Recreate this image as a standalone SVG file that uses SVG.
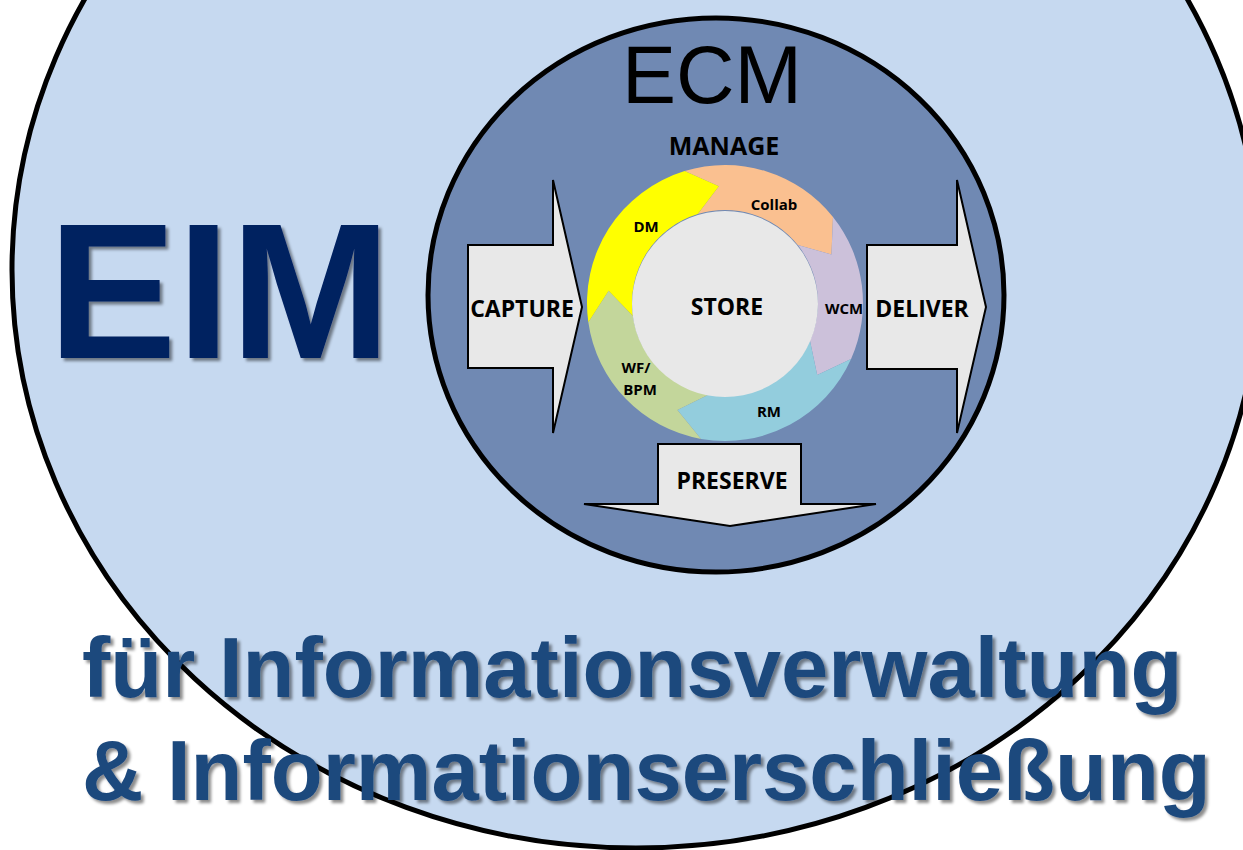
<svg xmlns="http://www.w3.org/2000/svg" width="1243" height="850" viewBox="0 0 1243 850">
<style>
.lbl{font-family:"Open Sans","Noto Sans","Liberation Sans",sans-serif;font-weight:bold;fill:#000;text-anchor:middle}
.big{font-size:23px}
.sm{font-size:15px}
.arrow{fill:#E8E8E8;stroke:#000;stroke-width:2;stroke-linejoin:miter}
.seg{stroke:none}
.bottom{font-family:"Liberation Sans",Arial,sans-serif;font-weight:bold;font-size:85px;fill:#1F497D}
</style>
<defs>
<filter id="sh" x="-5%" y="-5%" width="115%" height="130%">
<feDropShadow dx="3" dy="3" stdDeviation="1.5" flood-color="#000" flood-opacity="0.45"/>
</filter>
</defs>
<rect width="1243" height="850" fill="#FFFFFF"/>
<g id="eim">
<ellipse cx="636" cy="270" rx="624" ry="578" fill="#C6D9F0" stroke="#000" stroke-width="5"/>
<text x="48" y="358" font-family="Liberation Sans, Arial, sans-serif" font-weight="bold" font-size="193" fill="#002060" filter="url(#sh)">EIM</text>
</g>
<g id="ecm">
<ellipse cx="716" cy="295" rx="288" ry="277" fill="#7089B3" stroke="#000" stroke-width="5"/>
<text x="712" y="103" font-family="Liberation Sans, Arial, sans-serif" font-size="81" fill="#000" text-anchor="middle">ECM</text>
<text class="lbl" x="724" y="155" font-size="25">MANAGE</text>
</g>
<g id="cycle">
<path id="seg-collab" class="seg" fill="#FAC090" d="M684.65,171.03 A138,138 0 0 1 833.0,217.1 L831.47,254.48 L797.78,245.11 A93,93 0 0 0 697.81,214.06 L718.88,186.16 Z"/>
<path id="seg-wcm" class="seg" fill="#CCC1DA" d="M833.0,217.1 A138,138 0 0 1 851.06,359.12 L817.2,375.04 L809.96,340.82 A93,93 0 0 0 797.78,245.11 L831.47,254.48 Z"/>
<path id="seg-rm" class="seg" fill="#93CDDD" d="M851.06,359.12 A138,138 0 0 1 701.04,438.9 L677.42,409.88 L708.86,394.59 A93,93 0 0 0 809.96,340.82 L817.2,375.04 Z"/>
<path id="seg-wf" class="seg" fill="#C3D69B" d="M701.04,438.9 A138,138 0 0 1 588.34,322.21 L608.64,290.77 L632.9,315.95 A93,93 0 0 0 708.86,394.59 L677.42,409.88 Z"/>
<path id="seg-dm" class="seg" fill="#FFFF00" d="M588.34,322.21 A138,138 0 0 1 684.65,171.03 L718.88,186.16 L697.81,214.06 A93,93 0 0 0 632.9,315.95 L608.64,290.77 Z"/>
<text class="lbl sm" x="774" y="210">Collab</text>
<text class="lbl sm" x="844" y="314">WCM</text>
<text class="lbl sm" x="769" y="417">RM</text>
<text class="lbl sm" x="636" y="373">WF/</text>
<text class="lbl sm" x="640" y="395">BPM</text>
<text class="lbl sm" x="646" y="232">DM</text>
</g>
<g id="store">
<circle cx="725" cy="304" r="93" fill="#E8E8E8"/>
<text class="lbl" x="727" y="315" font-size="23">STORE</text>
</g>
<g id="capture">
<path class="arrow" d="M468,245 L553,245 L553,180 L582,307 L553,433 L553,368 L468,368 Z"/>
<text class="lbl big" x="522" y="317">CAPTURE</text>
</g>
<g id="deliver">
<path class="arrow" d="M867,245 L957,245 L957,180 L986,307 L957,433 L957,369 L867,369 Z"/>
<text class="lbl big" x="922" y="317">DELIVER</text>
</g>
<g id="preserve">
<path class="arrow" d="M658,444 L801,444 L801,504 L876,504 L730,526 L584,504 L658,504 Z"/>
<text class="lbl big" x="732" y="489">PRESERVE</text>
</g>
<g id="connectors"></g>
<g id="caption" filter="url(#sh)">
<text class="bottom" x="82" y="697">für Informationsverwaltung</text>
<text class="bottom" x="82" y="800">&amp; Informationserschließung</text>
</g>
</svg>
